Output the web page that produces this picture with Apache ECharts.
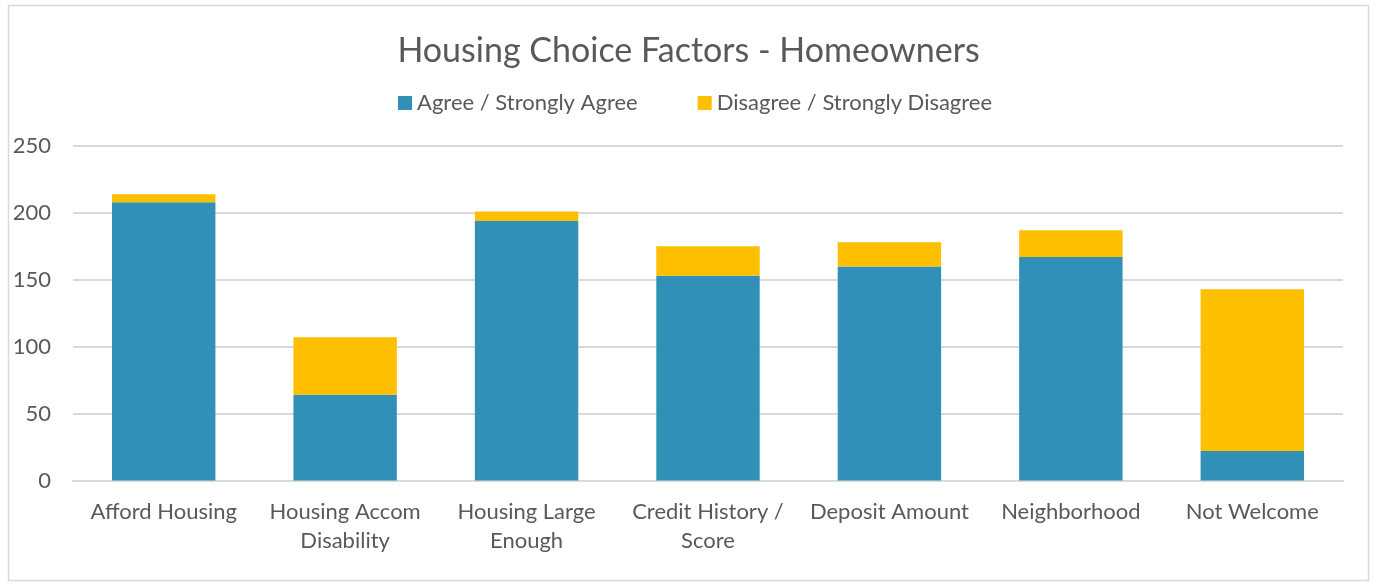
<!DOCTYPE html>
<html><head><meta charset="utf-8">
<script src="https://cdn.jsdelivr.net/npm/echarts@6/dist/echarts.min.js"></script>
<style>html,body{margin:0;padding:0;background:#fff}#c{width:1377px;height:584px}</style>
</head><body><div id="c"></div>
<script>
const categories = ['Afford Housing', 'Housing Accom\nDisability', 'Housing Large\nEnough', 'Credit History /\nScore', 'Deposit Amount', 'Neighborhood', 'Not Welcome'];
const agree = [208, 64, 194, 153, 160, 167, 22];
const disagree = [6, 43, 7, 22, 18, 20, 121];
const yTicks = [0, 50, 100, 150, 200, 250];
const seriesNames = ['Agree / Strongly Agree', 'Disagree / Strongly Disagree'];
const FONT = 'Lato';
const chart = echarts.init(document.getElementById('c'), null, {renderer: 'canvas'});
chart.setOption({
  animation: false,
  graphic: [{type: 'rect', shape: {x: 8.5, y: 5.5, width: 1360, height: 575}, style: {fill: 'none', stroke: '#d9d9d9', lineWidth: 1.5}}],
  title: {text: 'Housing Choice Factors - Homeowners', left: 'center', top: 29,
    textStyle: {fontFamily: FONT, fontSize: 34, fontWeight: 'normal', color: '#595959'}},
  legend: {top: 87, left: 393, itemWidth: 14, itemHeight: 14, itemGap: 60, icon: 'rect',
    textStyle: {fontFamily: FONT, fontSize: 22, color: '#595959'}, data: seriesNames},
  grid: {left: 73, right: 34, top: 146, bottom: 103.5},
  xAxis: {type: 'category', data: categories,
    axisLine: {lineStyle: {color: '#d9d9d9', width: 2}}, axisTick: {show: false},
    axisLabel: {fontFamily: FONT, fontSize: 22, color: '#595959', margin: 17, lineHeight: 29, interval: 0}},
  yAxis: {type: 'value', min: 0, max: 250, interval: 50,
    axisLine: {show: false}, axisTick: {show: false},
    splitLine: {lineStyle: {color: '#d9d9d9', width: 2}},
    axisLabel: {fontFamily: FONT, fontSize: 22, color: '#595959', margin: 22,
      formatter: v => yTicks.includes(v) ? String(v) : ''}},
  series: [
    {name: seriesNames[0], type: 'bar', stack: 's', data: agree, barWidth: '57%', itemStyle: {color: '#3190b8'}},
    {name: seriesNames[1], type: 'bar', stack: 's', data: disagree, itemStyle: {color: '#fdbf00'}}
  ]
});
</script></body></html>
